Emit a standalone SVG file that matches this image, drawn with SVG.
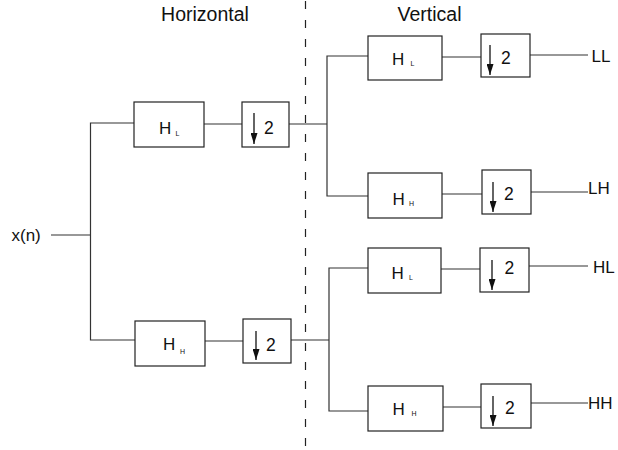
<svg xmlns="http://www.w3.org/2000/svg" width="618" height="450" viewBox="0 0 618 450">
<style>
.box{fill:#fff;stroke:#222;stroke-width:1.2}
.ln{fill:none;stroke:#333;stroke-width:1.2}
.dash{fill:none;stroke:#222;stroke-width:1.2;stroke-dasharray:8 11}
.t{font-family:"Liberation Sans",Arial,sans-serif;fill:#111}
.h{font-size:17px}
.s{font-size:7px}
.two{font-size:17.5px}
.lab{font-size:17px}
.title{font-size:19.5px}
.arr{stroke:#111;stroke-width:1.3;fill:none}
</style>
<defs>
<marker id="ah" markerUnits="userSpaceOnUse" markerWidth="11" markerHeight="7" refX="11" refY="3.5" orient="auto">
<path d="M0,0 L11,3.5 L0,7 z" fill="#111"/>
</marker>
</defs>
<rect width="618" height="450" fill="#fff"/>
<g id="titles">
<text class="t title" x="205" y="21" text-anchor="middle">Horizontal</text>
<text class="t title" x="429.5" y="21" text-anchor="middle">Vertical</text>
</g>
<g id="divider">
<line class="dash" x1="305.5" y1="1" x2="305.5" y2="450"/>
</g>
<g id="connectors">
<polyline class="ln" points="51,235 90.5,235"/>
<polyline class="ln" points="134,123 90.5,123 90.5,340 135,340"/>
<line class="ln" x1="204" y1="124" x2="242" y2="124"/>
<line class="ln" x1="205" y1="341" x2="243" y2="341"/>
<line class="ln" x1="289" y1="124" x2="327" y2="124"/>
<line class="ln" x1="291" y1="340" x2="329" y2="340"/>
<polyline class="ln" points="368,56 327,56 327,196 368,196"/>
<polyline class="ln" points="368,268 329,268 329,411 368,411"/>
<line class="ln" x1="442" y1="57" x2="481" y2="57"/>
<line class="ln" x1="442" y1="194" x2="482" y2="194"/>
<line class="ln" x1="441" y1="269" x2="480" y2="269"/>
<line class="ln" x1="443" y1="407" x2="481" y2="407"/>
<line class="ln" x1="530" y1="55" x2="588" y2="55"/>
<line class="ln" x1="531" y1="192" x2="588" y2="192"/>
<line class="ln" x1="529" y1="266" x2="588" y2="266"/>
<line class="ln" x1="531" y1="403" x2="588" y2="403"/>
</g>
<g id="input"><text class="t lab" x="11.5" y="241">x(n)</text></g>
<g id="hl1"><rect class="box" x="134" y="102" width="70" height="45"/><text class="t h" x="159" y="134">H</text><text class="t s" x="175.5" y="136">L</text></g>
<g id="ds1"><rect class="box" x="242" y="102" width="47" height="45"/><line class="arr" x1="254" y1="113" x2="254" y2="144" marker-end="url(#ah)"/><text class="t two" x="264" y="133.5">2</text></g>
<g id="hh1"><rect class="box" x="135" y="321" width="70" height="45"/><text class="t h" x="163" y="350">H</text><text class="t s" x="180" y="353.5">H</text></g>
<g id="ds2"><rect class="box" x="243" y="319" width="48" height="44"/><line class="arr" x1="256" y1="331" x2="256" y2="360" marker-end="url(#ah)"/><text class="t two" x="266" y="351">2</text></g>
<g id="hl2"><rect class="box" x="368" y="36" width="74" height="44"/><text class="t h" x="392" y="65">H</text><text class="t s" x="410.5" y="66">L</text></g>
<g id="ds3"><rect class="box" x="481" y="34" width="49" height="43"/><line class="arr" x1="490" y1="45" x2="490" y2="75" marker-end="url(#ah)"/><text class="t two" x="501" y="63.5">2</text></g>
<g id="hh2"><rect class="box" x="368" y="173" width="74" height="45"/><text class="t h" x="392.5" y="205">H</text><text class="t s" x="409" y="205.5">H</text></g>
<g id="ds4"><rect class="box" x="482" y="170" width="49" height="44"/><line class="arr" x1="493" y1="182" x2="493" y2="212" marker-end="url(#ah)"/><text class="t two" x="504" y="200">2</text></g>
<g id="hl3"><rect class="box" x="368" y="248" width="73" height="45"/><text class="t h" x="391.5" y="279">H</text><text class="t s" x="409" y="280">L</text></g>
<g id="ds5"><rect class="box" x="480" y="248" width="49" height="44"/><line class="arr" x1="492" y1="260" x2="492" y2="290" marker-end="url(#ah)"/><text class="t two" x="504.5" y="274">2</text></g>
<g id="hh3"><rect class="box" x="368" y="386" width="75" height="45"/><text class="t h" x="392.5" y="415">H</text><text class="t s" x="411.5" y="415.5">H</text></g>
<g id="ds6"><rect class="box" x="481" y="384" width="50" height="44"/><line class="arr" x1="493" y1="396" x2="493" y2="426" marker-end="url(#ah)"/><text class="t two" x="505" y="413.5">2</text></g>
<g id="outputs">
<text class="t lab" x="591.5" y="62">LL</text>
<text class="t lab" x="588" y="193.5">LH</text>
<text class="t lab" x="593" y="273">HL</text>
<text class="t lab" x="588" y="408.5">HH</text>
</g>
</svg>
